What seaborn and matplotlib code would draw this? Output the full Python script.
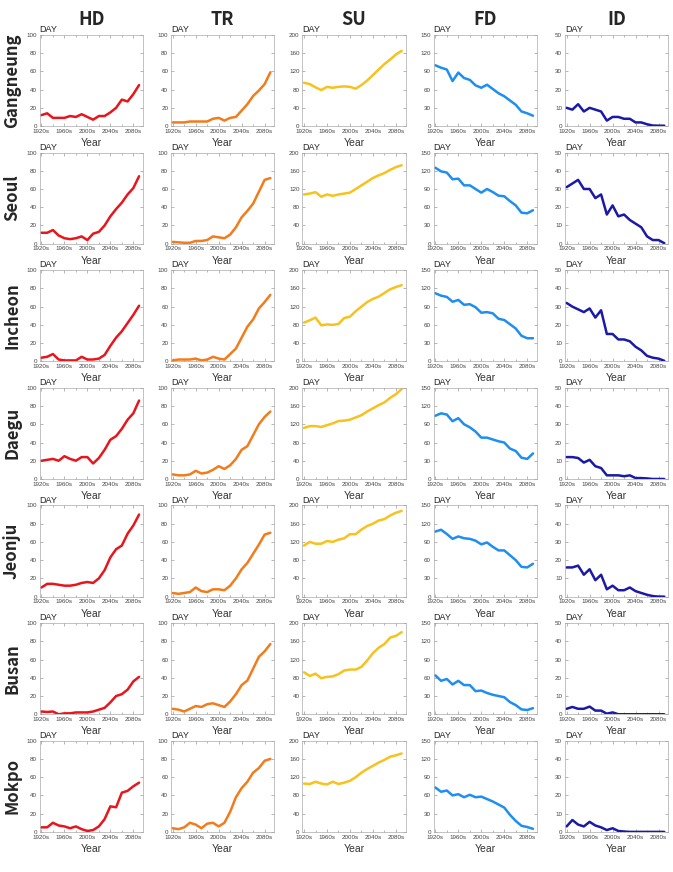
import matplotlib
matplotlib.use("Agg")
import matplotlib.pyplot as plt
import numpy as np
import pandas as pd
import seaborn as sns
from matplotlib.ticker import MultipleLocator

sns.set_style("ticks")
plt.rcParams["font.family"] = ["Liberation Sans", "DejaVu Sans"]

decades = list(range(1920, 2100, 10))
cities = ["Gangneung", "Seoul", "Incheon", "Daegu", "Jeonju", "Busan", "Mokpo"]
indices = ["HD", "TR", "SU", "FD", "ID"]

hd = {
    "Gangneung": [12, 14, 9, 9, 9, 11, 10, 13, 10, 7, 11, 11, 15, 20, 29, 27, 35, 45],
    "Seoul": [12, 12, 15, 9, 6, 5, 6, 8, 4, 11, 13, 20, 30, 38, 45, 54, 61, 74],
    "Incheon": [4, 5, 8, 2, 1, 1, 1, 5, 2, 2, 3, 7, 17, 26, 33, 42, 51, 61],
    "Daegu": [20, 21, 22, 20, 25, 22, 20, 24, 24, 17, 23, 32, 43, 47, 55, 65, 72, 86],
    "Jeonju": [10, 14, 14, 13, 12, 12, 13, 15, 16, 15, 20, 29, 43, 52, 56, 69, 78, 90],
    "Busan": [3, 2.5, 3, 0, 1, 1, 2, 2, 2, 3, 5, 7, 13, 20, 22, 27, 36, 41],
    "Mokpo": [5, 5, 10, 7, 6, 4, 6, 3, 1, 2, 6, 14, 28, 27, 43, 45, 50, 54],
}
tr = {
    "Gangneung": [4, 4, 4, 5, 5, 5, 5, 8, 9, 6, 9, 10, 17, 24, 33, 39, 46, 59],
    "Seoul": [2, 1.5, 1, 1, 3, 3, 4, 8, 7, 6, 10, 18, 29, 36, 44, 57, 70, 72],
    "Incheon": [1, 2, 2, 2, 3, 1, 2, 5, 3, 2, 8, 14, 26, 38, 46, 58, 65, 73],
    "Daegu": [5, 4, 4, 5, 9, 6, 7, 10, 14, 11, 15, 22, 32, 36, 48, 60, 68, 74],
    "Jeonju": [4, 3, 4, 5, 10, 6, 5, 8, 8, 7, 12, 20, 30, 37, 47, 57, 68, 70],
    "Busan": [6, 5, 3, 6, 9, 8, 11, 12, 10, 8, 14, 22, 32, 37, 50, 63, 69, 77],
    "Mokpo": [4, 3, 5, 10, 8, 4, 9, 10, 6, 10, 22, 38, 48, 55, 65, 70, 78, 80],
}
su = {
    "Gangneung": [95, 92, 85, 79, 86, 84, 86, 87, 86, 82, 90, 100, 112, 124, 136, 146, 157, 165],
    "Seoul": [108, 110, 113, 103, 108, 105, 108, 110, 112, 120, 128, 136, 144, 150, 155, 162, 168, 172],
    "Incheon": [85, 90, 96, 79, 81, 80, 82, 95, 98, 110, 120, 130, 137, 142, 150, 158, 163, 167],
    "Daegu": [112, 116, 116, 114, 118, 122, 127, 128, 130, 135, 140, 148, 155, 162, 168, 178, 186, 197],
    "Jeonju": [112, 120, 116, 116, 122, 120, 125, 128, 137, 137, 147, 155, 160, 167, 170, 178, 184, 188],
    "Busan": [92, 84, 89, 79, 82, 83, 88, 96, 98, 98, 104, 118, 134, 146, 154, 168, 172, 180],
    "Mokpo": [106, 105, 110, 106, 104, 110, 105, 108, 112, 120, 130, 138, 145, 152, 158, 165, 168, 172],
}
fd = {
    "Gangneung": [100, 96, 93, 74, 88, 79, 76, 67, 63, 68, 61, 54, 49, 42, 35, 24, 21, 17],
    "Seoul": [125, 119, 117, 106, 107, 96, 96, 90, 84, 90, 85, 79, 78, 70, 63, 51, 50, 55],
    "Incheon": [112, 108, 106, 98, 101, 93, 94, 89, 80, 81, 79, 70, 68, 61, 54, 42, 38, 38],
    "Daegu": [104, 108, 106, 95, 100, 90, 85, 78, 68, 68, 65, 62, 60, 50, 46, 35, 33, 42],
    "Jeonju": [107, 110, 103, 95, 99, 96, 95, 92, 86, 89, 82, 76, 76, 68, 60, 49, 48, 54],
    "Busan": [64, 55, 58, 49, 55, 48, 48, 38, 39, 35, 32, 30, 28, 20, 15, 8, 7, 10],
    "Mokpo": [73, 66, 68, 60, 62, 57, 61, 57, 58, 54, 50, 45, 40, 28, 18, 10, 8, 5],
}
id_ = {
    "Gangneung": [10, 9, 12, 8, 10, 9, 8, 3, 5, 5, 4, 4, 2, 2, 1, 0.3, 0.2, 0.2],
    "Seoul": [31, 33, 35, 30, 30, 25, 27, 16, 21, 15, 16, 13, 11, 9, 4, 2, 2, 0.3],
    "Incheon": [32, 30, 28.5, 27, 29, 24, 28, 15, 15, 12, 12, 11, 8, 6, 3, 2, 1.5, 0.3],
    "Daegu": [12, 12, 11.5, 9, 10.5, 7, 6, 2, 2, 2, 1.5, 2, 0.5, 0.5, 0.3, 0, 0, 0],
    "Jeonju": [16, 16, 17, 12, 15, 9, 12, 4, 6, 3.5, 3.5, 5, 3, 2, 1, 0.3, 0, 0],
    "Busan": [3, 4, 3, 3, 4.2, 2, 2, 0.3, 1, 0, 0, 0, 0, 0, 0, 0, 0, 0],
    "Mokpo": [3, 6.5, 4, 3, 5.5, 3.5, 2.5, 1, 2, 0.5, 0.2, 0, 0, 0, 0, 0, 0, 0],
}

series = {"HD": hd, "TR": tr, "SU": su, "FD": fd, "ID": id_}
colors = {"HD": "#e8161c", "TR": "#f27c1c", "SU": "#f7c21e", "FD": "#1e8ff0", "ID": "#1a1aa6"}
ymax = {"HD": 100, "TR": 100, "SU": 200, "FD": 150, "ID": 50}
ystep = {"HD": 20, "TR": 20, "SU": 40, "FD": 30, "ID": 10}
tick_years = [1920, 1960, 2000, 2040, 2080]

fig, axes = plt.subplots(7, 5, figsize=(6.73, 8.72), dpi=100)
fig.subplots_adjust(left=0.059, right=0.993, top=0.960, bottom=0.046,
                    wspace=0.27, hspace=0.29)

for i, city in enumerate(cities):
    for j, key in enumerate(indices):
        ax = axes[i, j]
        df = pd.DataFrame({"decade": decades, "days": series[key][city]})
        sns.lineplot(data=df, x="decade", y="days", color=colors[key],
                     linewidth=1.8, ax=ax)
        ax.set_xlim(1917, 2097)
        ax.set_ylim(0, ymax[key])
        ax.set_yticks(np.arange(0, ymax[key] + 1, ystep[key]))
        ax.set_xticks(tick_years)
        ax.set_xticklabels([f"{y}s" for y in tick_years])
        ax.xaxis.set_minor_locator(MultipleLocator(20))
        ax.tick_params(axis="both", which="both", direction="in", top=True,
                       right=True, length=2, width=0.5, color="#999999",
                       labelsize=4.5, labelcolor="#444444", pad=2)
        ax.tick_params(which="minor", length=1.2)
        for s in ax.spines.values():
            s.set_linewidth(0.5)
            s.set_color("#aaaaaa")
        ax.set_ylabel("")
        ax.set_xlabel("Year", fontsize=7.5, labelpad=3, color="#333333")
        ax.text(0.0, 1.01, "DAY", transform=ax.transAxes, fontsize=6.5,
                ha="left", va="bottom", color="#222222")
        if i == 0:
            ax.set_title(key, fontsize=13, fontweight="bold", pad=7,
                         family=["Noto Sans CJK KR", "DejaVu Sans"])
    pos = axes[i, 0].get_position()
    fig.text(0.018, (pos.y0 + pos.y1) / 2, city, rotation=90, ha="center",
             va="center", fontsize=12, fontweight="bold",
             family=["Noto Sans CJK KR", "DejaVu Sans"])

fig.savefig("out.png", dpi=100)
